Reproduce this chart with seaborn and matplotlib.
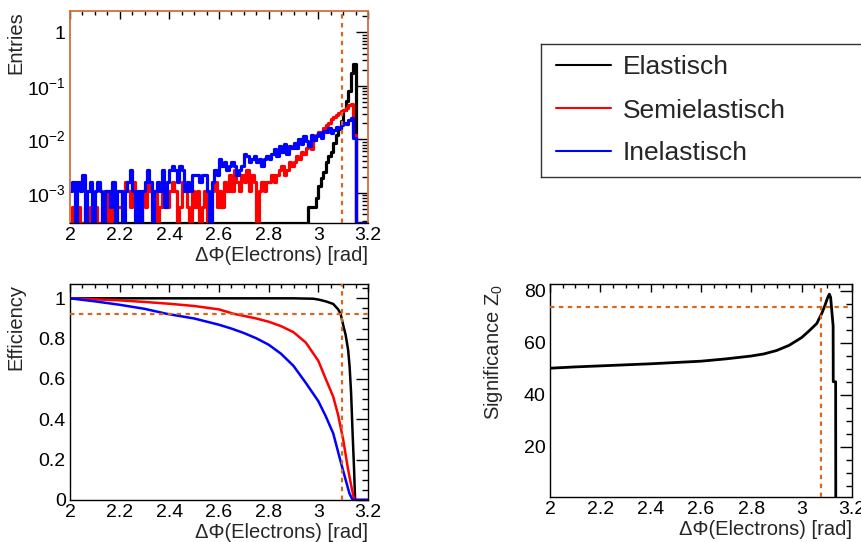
import numpy as np
import pandas as pd
import matplotlib
matplotlib.use("Agg")
import matplotlib.pyplot as plt
import seaborn as sns
from matplotlib.ticker import MultipleLocator, LogLocator, NullFormatter, FuncFormatter

# ---------------- data ----------------
series_names = ["Elastisch", "Semielastisch", "Inelastisch"]
series_colors = ["#000000", "#ff0000", "#0000ff"]

# histogram: 120 bins of width 0.01 from 2.0 to 3.2, counts (normalised by hist_norm)
hist_lo, hist_hi, hist_nbins = 2.0, 3.2, 120
hist_norm = 1850.0

counts_elastisch = [
    0, 0, 0, 0, 0, 0, 0, 0, 0, 0,
    0, 0, 0, 0, 0, 0, 0, 0, 0, 0,
    0, 0, 0, 0, 0, 0, 0, 0, 0, 0,
    0, 0, 0, 0, 0, 0, 0, 0, 0, 0,
    0, 0, 0, 0, 0, 0, 0, 0, 0, 0,
    0, 0, 0, 0, 0, 0, 0, 0, 0, 0,
    0, 0, 0, 0, 0, 0, 0, 0, 0, 0,
    0, 0, 0, 0, 0, 0, 0, 0, 0, 0,
    0, 0, 0, 0, 0, 0, 0, 0, 0, 0,
    0, 0, 0, 0, 0, 0, 1, 1, 1, 1.5,
    2.5, 3.5, 4.5, 7, 9, 11, 16, 22, 29, 40,
    65, 95, 150, 320, 480, 0, 0, 0, 0, 0,
]
counts_semielastisch = [
    0, 1, 0, 1, 0, 0, 1, 0, 1, 0,
    1, 0, 0, 1, 2, 0, 1, 0, 0, 1,
    1, 2, 3, 2, 1, 3, 2, 1, 0, 2,
    1, 3, 2, 1, 2, 0, 1, 3, 2, 1,
    2, 3, 2, 0, 1, 3, 2, 1, 0, 2,
    1, 2, 0, 1, 2, 0, 1, 2, 3, 1,
    2, 1, 3, 2, 4, 2, 5, 3, 2, 4,
    3, 5, 2, 4, 3, 0, 2, 3, 2, 3,
    3, 4, 3, 4, 5, 6, 4, 5, 7, 6,
    7, 9, 8, 11, 10, 13, 15, 12, 18, 22,
    26, 22, 30, 34, 38, 44, 48, 52, 58, 62,
    66, 72, 80, 86, 22, 0, 0, 0, 0, 0,
]
counts_inelastisch = [
    2, 3, 0, 3, 2, 4, 0, 2, 3, 0,
    2, 3, 2, 0, 2, 2, 1, 3, 0, 2,
    2, 0, 2, 3, 5, 2, 0, 2, 0, 2,
    3, 5, 3, 0, 2, 3, 2, 5, 1, 3,
    5, 6, 5, 3, 6, 5, 2, 3, 2, 4,
    4, 4, 3, 4, 4, 2, 0, 3, 5, 4,
    8, 6, 7, 5, 6, 7, 6, 4, 5, 6,
    10, 9, 7, 8, 9, 7, 8, 6, 8, 9,
    8, 10, 12, 9, 14, 11, 15, 10, 14, 13,
    16, 13, 19, 15, 21, 17, 14, 22, 18, 21,
    24, 20, 27, 25, 30, 24, 28, 32, 30, 34,
    38, 36, 42, 46, 20, 0, 0, 0, 0, 0,
]

# efficiency curves
eff_x_elastisch = [2.0, 2.9, 2.98, 3.0, 3.03, 3.06, 3.08, 3.09, 3.10, 3.11, 3.12,
                   3.126, 3.132, 3.138, 3.144, 3.148, 3.2]
eff_elastisch = [1.0, 1.0, 0.998, 0.994, 0.985, 0.972, 0.945, 0.922, 0.868, 0.818, 0.744,
                 0.66, 0.53, 0.33, 0.15, 0.0, 0.0]
eff_x_semielastisch = [2.0, 2.1, 2.2, 2.3, 2.4, 2.5, 2.6, 2.66, 2.7, 2.75, 2.8, 2.85,
                       2.9, 2.95, 3.0, 3.03, 3.06, 3.08, 3.1, 3.12, 3.135, 3.145, 3.2]
eff_semielastisch = [1.0, 0.995, 0.99, 0.982, 0.973, 0.962, 0.945, 0.923, 0.913, 0.9,
                     0.884, 0.862, 0.832, 0.78, 0.69, 0.6, 0.512, 0.42, 0.3, 0.15,
                     0.055, 0.0, 0.0]
eff_x_inelastisch = [2.0, 2.1, 2.2, 2.3, 2.39, 2.5, 2.6, 2.65, 2.7, 2.75, 2.8, 2.85,
                     2.9, 2.95, 3.0, 3.03, 3.06, 3.09, 3.11, 3.125, 3.138, 3.2]
eff_inelastisch = [1.0, 0.985, 0.968, 0.948, 0.923, 0.9, 0.869, 0.85, 0.828, 0.802,
                   0.77, 0.725, 0.665, 0.58, 0.49, 0.415, 0.33, 0.19, 0.1, 0.033,
                   0.0, 0.0]

# significance
sig_x = [2.0, 2.1, 2.2, 2.3, 2.4, 2.5, 2.6, 2.7, 2.8, 2.85, 2.9, 2.95, 3.0, 3.03,
         3.06, 3.08, 3.093, 3.103, 3.11, 3.115, 3.125, 3.1255, 3.135, 3.1355]
sig_z0 = [50.2, 50.7, 51.1, 51.5, 51.9, 52.4, 52.9, 53.8, 54.9, 55.7, 57.0, 59.0,
          62.0, 64.6, 67.4, 71.3, 74.5, 77.3, 78.7, 77.5, 66.5, 45.0, 45.0, 0.0]

# cut markers
cut_x_eff = 3.095
cut_eff = 0.923
cut_x_sig = 3.077
cut_sig = 73.85

# ---------------- style ----------------
sns.set_theme(style="white")
plt.rcParams["font.family"] = ["Liberation Sans", "DejaVu Sans"]
plt.rcParams["mathtext.fontset"] = "custom"
plt.rcParams["mathtext.rm"] = "Liberation Sans"
plt.rcParams["mathtext.it"] = "Liberation Sans"

W, H = 861, 542
fig = plt.figure(figsize=(W / 100, H / 100), dpi=100)
fig.patch.set_facecolor("white")


def rect(l, r, t, b):
    return [l / W, 1 - b / H, (r - l) / W, (b - t) / H]


TICK = 14
LABEL = 14.5
XLABEL = "ΔΦ(Electrons) [rad]"
cut_color = "#d2691e"
fmt_g = FuncFormatter(lambda v, p: "%g" % round(v, 6))


def style(ax, ylab, ylab_x):
    ax.set_facecolor("white")
    for s in ax.spines.values():
        s.set_color("black")
        s.set_linewidth(1.0)
        s.set_visible(True)
    ax.tick_params(which="both", direction="in", top=True, right=True,
                   labelsize=TICK, colors="black")
    ax.tick_params(axis="x", which="major", length=5.5, width=1, pad=3)
    ax.tick_params(axis="x", which="minor", length=2.8, width=1)
    ax.tick_params(axis="y", which="major", length=8.5, width=1, pad=3)
    ax.tick_params(axis="y", which="minor", length=4.3, width=1)
    ax.set_xlim(2.0, 3.2)
    ax.xaxis.set_major_locator(MultipleLocator(0.2))
    ax.xaxis.set_minor_locator(MultipleLocator(0.05))
    ax.xaxis.set_major_formatter(fmt_g)
    ax.set_xlabel(XLABEL, loc="right", fontsize=LABEL, labelpad=1)
    ax.set_ylabel(ylab, loc="top", fontsize=LABEL)
    ax.yaxis.set_label_coords(ylab_x, 1.0)
    ax.grid(False)


# ---------- top-left: histograms ----------
ax1 = fig.add_axes(rect(70, 368, 11, 223))
edges = np.linspace(hist_lo, hist_hi, hist_nbins + 1)
centers = 0.5 * (edges[:-1] + edges[1:])
y_bottom, y_top = 2.75e-4, 2.5
hist_series = [counts_elastisch, counts_semielastisch, counts_inelastisch]
for name, col, cnt in zip(series_names, series_colors, hist_series):
    vals = np.asarray(cnt, dtype=float) / hist_norm
    vals = np.clip(vals, y_bottom, None)  # empty bins drawn on the frame, ROOT-like
    dfh = pd.DataFrame({"dphi": centers, "w": vals})
    sns.histplot(data=dfh, x="dphi", weights="w", bins=hist_nbins,
                 binrange=(hist_lo, hist_hi), element="step", fill=False,
                 color=col, linewidth=2.3, ax=ax1)
ax1.set_yscale("log")
ax1.set_ylim(y_bottom, y_top)
style(ax1, "Entries", -0.151)
ax1.set_yticks([1e-3, 1e-2, 1e-1, 1.0])
ax1.set_yticklabels(["10$^{-3}$", "10$^{-2}$", "10$^{-1}$", "1"])
ax1.yaxis.set_minor_locator(LogLocator(base=10, subs=np.arange(2, 10)))
ax1.yaxis.set_minor_formatter(NullFormatter())
ax1.axvline(cut_x_eff, color=cut_color, linestyle=(0, (2, 2)), linewidth=1.6, zorder=5)
for side in ["left", "top", "right"]:
    ax1.spines[side].set_color("#d2703c")
    ax1.spines[side].set_linewidth(1.3)

# ---------- bottom-left: efficiencies ----------
ax2 = fig.add_axes(rect(70, 368, 284, 500))
eff_sets = [(eff_x_elastisch, eff_elastisch), (eff_x_semielastisch, eff_semielastisch),
            (eff_x_inelastisch, eff_inelastisch)]
for name, col, (ex, ev) in zip(series_names, series_colors, eff_sets):
    df = pd.DataFrame({"x": ex, "eff": ev})
    sns.lineplot(data=df, x="x", y="eff", color=col, linewidth=1.8, ax=ax2,
                 estimator=None, label=name, legend=False)
ax2.set_ylim(0, 1.071)
style(ax2, "Efficiency", -0.151)
ax2.yaxis.set_major_locator(MultipleLocator(0.2))
ax2.yaxis.set_minor_locator(MultipleLocator(0.05))
ax2.yaxis.set_major_formatter(fmt_g)
ax2.axvline(cut_x_eff, color=cut_color, linestyle=(0, (2, 2)), linewidth=1.6, zorder=5)
ax2.axhline(cut_eff, color=cut_color, linestyle=(0, (2, 2)), linewidth=1.6, zorder=5)

# ---------- bottom-right: significance ----------
ax3 = fig.add_axes(rect(550, 852, 284, 497))
df_sig = pd.DataFrame({"x": sig_x, "z0": sig_z0})
sns.lineplot(data=df_sig, x="x", y="z0", color="black", linewidth=2.0, ax=ax3,
             estimator=None, sort=False)
ax3.set_ylim(0.65, 82.6)
style(ax3, "Significance Z$_0$", -0.149)
ax3.yaxis.set_major_locator(MultipleLocator(20))
ax3.yaxis.set_minor_locator(MultipleLocator(5))
ax3.yaxis.set_major_formatter(fmt_g)
ax3.axvline(cut_x_sig, color=cut_color, linestyle=(0, (2, 2)), linewidth=1.6, zorder=5)
ax3.axhline(cut_sig, color=cut_color, linestyle=(0, (2, 2)), linewidth=1.6, zorder=5)

# ---------- legend box ----------
axl = fig.add_axes(rect(541, 862, 44, 177))
axl.set_xticks([])
axl.set_yticks([])
axl.set_facecolor("white")
for s in axl.spines.values():
    s.set_color("#333333")
    s.set_linewidth(1.0)
    s.set_visible(True)
handles = ax2.get_lines()[:3]
leg = axl.legend(handles, series_names, loc="center left", frameon=False,
                 fontsize=19, handlelength=2.1, handletextpad=0.45,
                 labelspacing=0.72, borderaxespad=0.25, borderpad=0.3)
for h in leg.get_lines():
    h.set_linewidth(1.5)

fig.savefig("out.png", dpi=100, facecolor="white")
